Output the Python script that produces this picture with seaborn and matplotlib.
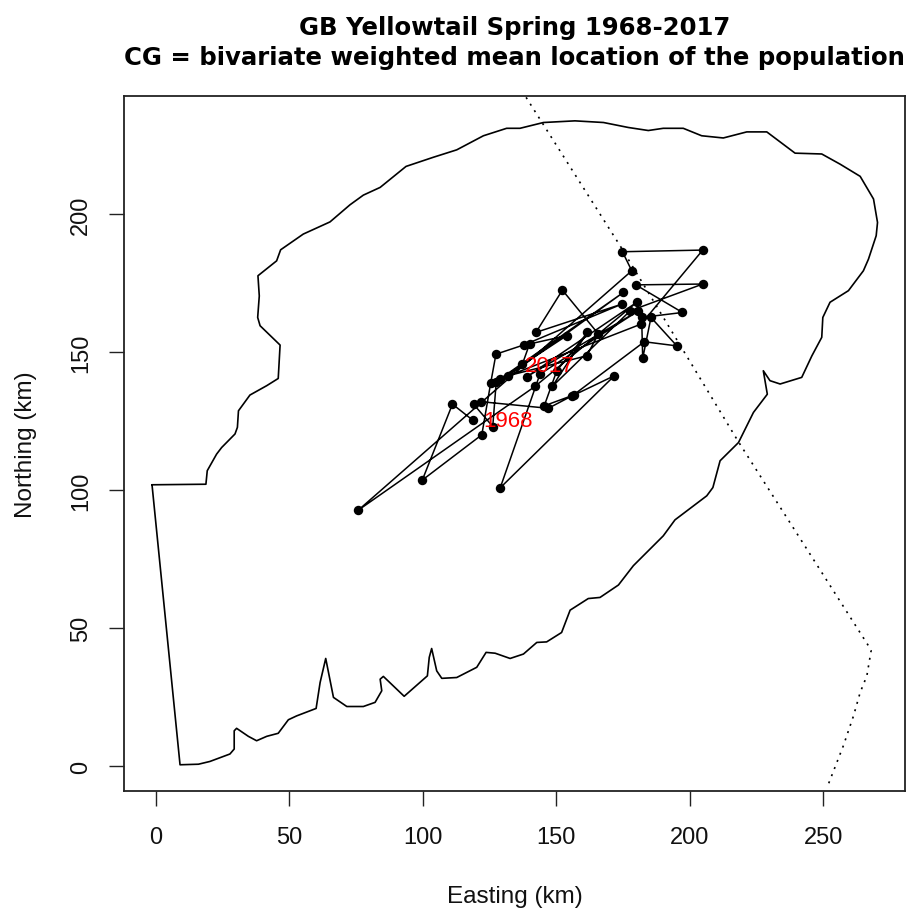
# GB yellowtail center of gravity track over the survey strata outline
import pandas as pd
import numpy as np
import matplotlib
matplotlib.use("Agg")
import matplotlib.pyplot as plt
import seaborn as sns

# Stock area outline (km)
outline_x = [-1.5, 18.7, 19.2, 22.7, 24.6, 29.6, 30.5, 30.9, 35.2, 41.5, 45.8, 46.5, 39.0, 38.1, 38.7, 38.2,
             45.2, 46.7, 55.2, 65.2, 72.7, 77.7, 84.0, 93.7, 103.9, 112.7, 122.7, 131.4, 136.4, 145.2, 157.0,
             167.7, 177.0, 184.5, 190.1, 197.6, 204.5, 212.6, 221.4, 228.9, 239.5, 249.5, 256.4, 263.9, 268.9,
             270.4, 269.9, 267.0, 265.1, 259.5, 252.6, 249.9, 249.5, 245.8, 242.0, 233.9, 230.1, 227.6, 229.1,
             223.9, 218.3, 211.4, 208.7, 206.4, 194.5, 190.1, 178.9, 173.3, 166.4, 162.0, 155.2, 152.0, 146.4,
             142.7, 137.7, 132.7, 127.1, 123.7, 120.2, 112.7, 107.1, 105.2, 103.3, 102.4, 101.7, 93.0, 85.2,
             84.0, 84.6, 82.1, 77.7, 71.5, 66.5, 63.6, 61.5, 60.0, 52.7, 49.6, 45.8, 41.5, 37.7, 34.6, 30.2,
             29.3, 29.3, 27.7, 20.2, 15.9, 9.0, -1.5]
outline_y = [102.0, 102.2, 107.1, 113.1, 115.5, 120.4, 122.8, 128.8, 134.5, 137.9, 140.5, 152.6, 159.6, 162.6,
             170.4, 177.7, 183.1, 187.1, 192.8, 197.2, 203.4, 206.9, 209.7, 217.3, 220.6, 223.3, 228.4, 231.1,
             231.1, 233.2, 233.8, 233.2, 231.4, 230.3, 231.1, 231.1, 228.4, 227.6, 229.8, 229.8, 222.1, 221.8,
             218.1, 213.7, 205.5, 197.0, 192.2, 183.7, 179.5, 172.3, 168.1, 162.6, 155.4, 148.7, 140.9, 138.5,
             139.7, 143.3, 134.8, 128.2, 117.3, 110.7, 101.0, 98.0, 89.3, 83.5, 72.7, 65.7, 61.2, 60.8, 56.6,
             48.5, 45.1, 44.9, 40.7, 39.1, 41.0, 41.3, 35.9, 32.2, 31.9, 34.6, 42.7, 39.5, 32.8, 25.4, 32.6,
             31.6, 27.4, 23.2, 21.7, 21.7, 25.0, 39.1, 30.4, 21.0, 18.3, 16.9, 12.0, 10.9, 9.3, 10.9, 13.8,
             12.9, 6.3, 4.5, 1.8, 0.8, 0.6, 102.0]

# Dotted boundary line (km)
boundary_x = [138.7, 173.9, 218.0, 267.0, 268.0, 266.4, 263.9, 261.4, 257.6, 252.0]
boundary_y = [242.3, 188.6, 118.0, 43.7, 41.9, 32.8, 26.8, 18.3, 7.5, -6.4]

# Yearly center of gravity, 1968 to 2017 (km)
cg_x = [118.7, 111.1, 99.8, 122.1, 125.4, 127.4, 138.0, 174.5, 142.4, 152.3, 165.8, 161.4, 132.0, 175.2, 128.9,
        181.8, 204.9, 174.8, 178.3, 75.8, 142.0, 180.2, 138.9, 180.8, 143.9, 129.0, 171.8, 156.0, 183.0, 195.2,
        185.5, 182.4, 182.0, 197.3, 179.8, 204.9, 177.7, 148.5, 161.7, 150.2, 145.5, 156.5, 147.0, 121.7, 119.0,
        126.2, 127.5, 153.9, 140.0, 137.3]
cg_y = [125.4, 131.2, 103.7, 120.1, 138.7, 149.3, 152.7, 167.4, 157.2, 172.5, 156.6, 148.7, 141.5, 171.7, 140.3,
        160.2, 187.0, 186.4, 179.5, 92.8, 137.6, 168.1, 141.1, 165.0, 142.1, 100.9, 141.5, 134.2, 153.8, 152.3,
        162.6, 147.8, 162.6, 164.4, 174.4, 174.7, 165.0, 137.6, 157.2, 143.3, 130.6, 134.5, 129.7, 132.1, 131.2,
        123.1, 139.2, 156.0, 153.0, 145.7]

year_labels = ["1968", "2017"]
label_x = [131.9, 147.7]
label_y = [125.1, 145.3]

x_ticks = [0, 50, 100, 150, 200, 250]
y_ticks = [0, 50, 100, 150, 200]

sns.set_theme(style="ticks")
plt.rcParams["font.family"] = ["Liberation Sans", "DejaVu Sans"]

fig, ax = plt.subplots(figsize=(9.18, 9.12), dpi=100)
fig.subplots_adjust(left=124 / 918, right=905 / 918, top=1 - 97 / 912, bottom=1 - 792 / 912)

sns.lineplot(x=outline_x, y=outline_y, sort=False, estimator=None, color="black", linewidth=1.2, ax=ax)
sns.lineplot(x=boundary_x, y=boundary_y, sort=False, estimator=None, color="black", linewidth=1.2,
             linestyle=(0, (1.2, 3.4)), ax=ax)
sns.lineplot(x=cg_x, y=cg_y, sort=False, estimator=None, color="black", linewidth=1.1,
             marker="o", markersize=6.8, markeredgewidth=0, ax=ax)

for lab, lx, ly in zip(year_labels, label_x, label_y):
    ax.text(lx, ly, lab, color="red", fontsize=16, ha="center", va="center")

ax.set_xlim(-12, 280.7)
ax.set_ylim(-8.9, 242.8)
ax.set_xticks(x_ticks)
ax.set_yticks(y_ticks)
ax.set_xticklabels([str(v) for v in x_ticks])
ax.set_yticklabels([str(v) for v in y_ticks], rotation=90, va="center")
ax.tick_params(axis="both", length=11, width=1.0, color="#222222", labelsize=17, labelcolor="#111111")
ax.tick_params(axis="x", pad=14)
ax.tick_params(axis="y", pad=12)

for side in ax.spines.values():
    side.set_visible(True)
    side.set_linewidth(1.3)
    side.set_color("#222222")

ax.set_xlabel("Easting (km)", fontsize=17.5, color="#111111", labelpad=27)
ax.set_ylabel("Northing (km)", fontsize=17.5, color="#111111", labelpad=24)
ax.set_title("GB Yellowtail Spring 1968-2017\nCG = bivariate weighted mean location of the population",
             fontsize=17.6, fontweight="bold", family="DejaVu Sans", color="black", pad=23, linespacing=1.32)

fig.savefig("out.png", dpi=100)
